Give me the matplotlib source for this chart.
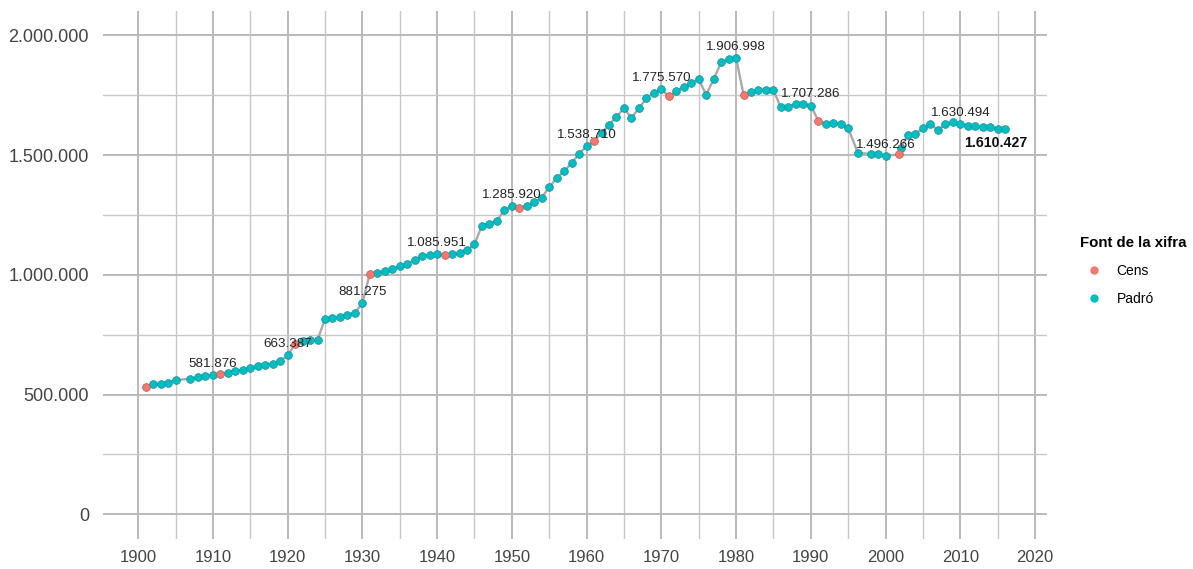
import matplotlib
matplotlib.use("Agg")
import matplotlib.pyplot as plt
from matplotlib.ticker import FuncFormatter, MultipleLocator
from matplotlib.lines import Line2D

plt.rcParams['font.family'] = ['Liberation Sans', 'DejaVu Sans']

# census (Cens) figures
cens_years = [1901, 1911, 1921, 1931, 1941, 1951, 1961, 1971, 1981, 1991, 2001.85]
cens_vals = [533000, 587411, 710335, 1005565, 1081175, 1280179, 1557863,
             1745142, 1752627, 1643542, 1503884]

# municipal register (Padró) figures
padro_years = [1902, 1903, 1904, 1905, 1907, 1908, 1909, 1910,
               1912, 1913, 1914, 1915, 1916, 1917, 1918, 1919, 1920,
               1922, 1923, 1924, 1925, 1926, 1927, 1928, 1929, 1930,
               1932, 1933, 1934, 1935, 1936, 1937, 1938, 1939, 1940,
               1942, 1943, 1944, 1945, 1946, 1947, 1948, 1949, 1950,
               1952, 1953, 1954, 1955, 1956, 1957, 1958, 1959, 1960,
               1962, 1963, 1964, 1965, 1966, 1967, 1968, 1969, 1970,
               1972, 1973, 1974, 1975, 1976, 1977, 1978, 1979, 1980,
               1982, 1983, 1984, 1985, 1986, 1987, 1988, 1989, 1990,
               1992, 1993, 1994, 1995, 1996.3, 1998, 1999, 2000,
               2002, 2003, 2004, 2005, 2006, 2007, 2008, 2009, 2010,
               2011, 2012, 2013, 2014, 2015, 2016]
padro_vals = [543000, 546000, 550000, 560000, 567000, 572000, 578000, 581876,
              589000, 597000, 603000, 610000, 619000, 625000, 629000, 640000, 663387,
              724000, 727000, 729000, 815000, 819000, 824000, 832000, 842000, 881275,
              1009000, 1015000, 1025000, 1036000, 1047000, 1061000, 1077000, 1085000, 1085951,
              1088000, 1092000, 1103000, 1128000, 1206000, 1214000, 1227000, 1270000, 1285920,
              1289000, 1305000, 1323000, 1366000, 1405000, 1432000, 1467000, 1506000, 1538710,
              1592000, 1627000, 1661000, 1696000, 1655000, 1696000, 1738000, 1761000, 1775570,
              1766000, 1786000, 1800000, 1817000, 1752000, 1817000, 1887000, 1900000, 1906998,
              1762000, 1773000, 1773000, 1770000, 1700000, 1703000, 1714000, 1713000, 1707286,
              1631000, 1634000, 1631000, 1613000, 1509000, 1505000, 1503000, 1496266,
              1529000, 1585000, 1588000, 1613000, 1631000, 1603000, 1630000, 1638000, 1630494,
              1620000, 1620000, 1616000, 1616000, 1610000, 1610427]

label_years = [1910, 1920, 1930, 1940, 1950, 1960, 1970, 1980, 1990, 2000, 2010]
last_year = 2016

RED = '#F8766D'
TEAL = '#00BFC4'


def fmt(v, pos=None):
    return '{:,.0f}'.format(v).replace(',', '.')


# all points joined in time order
allp = sorted(list(zip(cens_years, cens_vals)) + list(zip(padro_years, padro_vals)))
xs = [p[0] for p in allp]
ys = [p[1] for p in allp]

fig = plt.figure(figsize=(11.93, 5.69), dpi=100)
ax = fig.add_axes([103 / 1193, 30 / 569, 944 / 1193, 528 / 569])

ax.plot(xs, ys, color='#a9a9a9', lw=1.7, zorder=2)
ax.plot(padro_years, padro_vals, 'o', ms=5.6, mfc=TEAL, mec='#1a8f93', mew=0.5, zorder=3)
ax.plot(cens_years, cens_vals, 'o', ms=5.6, mfc=RED, mec='#b9574f', mew=0.5, zorder=3)

lookup = dict(zip(padro_years, padro_vals))
for yr in label_years:
    ax.annotate(fmt(lookup[yr]), (yr, lookup[yr]), xytext=(0, 8), textcoords='offset points',
                ha='center', va='center', fontsize=9.6, color='#222222', zorder=5)
ax.annotate(fmt(lookup[last_year]), (last_year, lookup[last_year]), xytext=(-7, -10),
            textcoords='offset points', ha='center', va='center', fontsize=10.2,
            fontweight='bold', color='#111111', zorder=5)

ax.set_xlim(1895.3, 2021.6)
ax.set_ylim(-103000, 2102000)
ax.xaxis.set_major_locator(MultipleLocator(10))
ax.xaxis.set_minor_locator(MultipleLocator(5))
ax.yaxis.set_major_locator(MultipleLocator(500000))
ax.yaxis.set_minor_locator(MultipleLocator(250000))
ax.yaxis.set_major_formatter(FuncFormatter(fmt))
ax.grid(True, which='major', color='#bababa', lw=1.4)
ax.grid(True, which='minor', color='#c8c8c8', lw=1.0)
ax.set_axisbelow(True)
for s in ax.spines.values():
    s.set_visible(False)
ax.tick_params(which='both', length=0)
ax.tick_params(axis='x', labelsize=12, colors='#444444', pad=8)
ax.tick_params(axis='y', labelsize=13, colors='#444444', pad=10)

handles = [Line2D([], [], marker='o', ls='', ms=5, mfc=RED, mec=RED, label='Cens'),
           Line2D([], [], marker='o', ls='', ms=5, mfc=TEAL, mec=TEAL, label='Padró')]
leg = fig.legend(handles=handles, title='Font de la xifra', loc='upper left',
                 bbox_to_anchor=(1072 / 1193, 1 - 228 / 569), frameon=False,
                 fontsize=10, title_fontproperties={'weight': 'bold', 'size': 10.8},
                 handletextpad=0.6, labelspacing=1.0, alignment='left',
                 borderaxespad=0.2)

fig.savefig('out.png', dpi=100)
